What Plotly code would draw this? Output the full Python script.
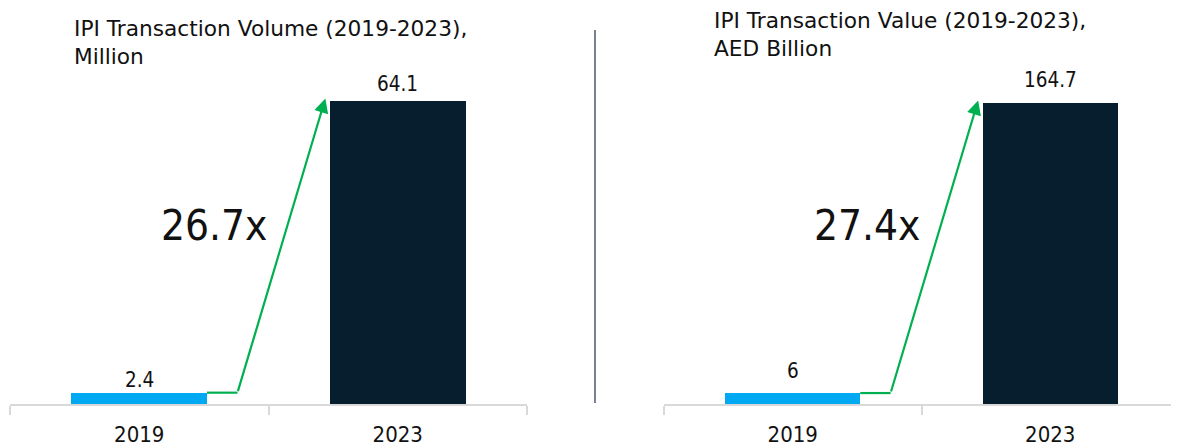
import plotly.graph_objects as go

# data
years = ["2019", "2023"]
volume = [2.4, 64.1]        # million transactions
value_aed = [6, 164.7]      # AED billion
growth_labels = ["26.7x", "27.4x"]
titles = ["IPI Transaction Volume (2019-2023),<br>Million",
          "IPI Transaction Value (2019-2023),<br>AED Billion"]
value_text = [["2.4", "64.1"], ["6", "164.7"]]

BLUE = "#00A9F1"
NAVY = "#071E2E"
GREEN = "#00B050"
TXT = "#111111"
FONT = "'DejaVu Sans Condensed', 'DejaVu Sans', sans-serif"
TITLE_FONT = "'DejaVu Sans', sans-serif"

# page body has an 8px margin, so the figure is sized to fit the window
W, H = 1171, 439
BOTTOM = 43
PLOT_H = H - BOTTOM

fig = go.Figure()

panels = [
    dict(vals=volume, xa="x", ya="y", xdom=[2 / W, 519 / W], ymax=83.9,
         label_shift=[-1, 3]),
    dict(vals=value_aed, xa="x2", ya="y2", xdom=[656 / W, 1.0], ymax=217,
         label_shift=[8, 9]),
]

for i, p in enumerate(panels):
    fig.add_trace(go.Bar(
        x=years, y=p["vals"], width=0.525,
        marker=dict(color=[BLUE, NAVY], line=dict(width=0)),
        xaxis=p["xa"], yaxis=p["ya"], showlegend=False, hoverinfo="skip",
    ))
    # value labels above bars
    for j in range(len(years)):
        fig.add_annotation(
            x=j, y=p["vals"][j], xref=p["xa"], yref=p["ya"],
            text=value_text[i][j], showarrow=False, yanchor="bottom",
            yshift=p["label_shift"][j], font=dict(size=20.5, color=TXT, family=FONT),
        )
    # green growth connector: short flat run off the small bar, then arrow up
    lo, hi = p["vals"]
    fig.add_shape(type="line", xref=p["xa"], yref=p["ya"],
                  x0=0.262, x1=0.38, y0=lo, y1=lo,
                  line=dict(color=GREEN, width=2.2))
    fig.add_annotation(
        x=0.72, y=hi * 1.01, ax=0.38, ay=lo, xref=p["xa"], yref=p["ya"],
        axref=p["xa"], ayref=p["ya"], text="", showarrow=True,
        arrowhead=2, arrowsize=1.3, arrowwidth=2.2, arrowcolor=GREEN,
    )
    # multiplier
    fig.add_annotation(
        x=0.29, y=p["ymax"] * 0.45, xref=p["xa"], yref=p["ya"],
        text=growth_labels[i], showarrow=False,
        font=dict(size=42, color=TXT, family=FONT),
    )
    # panel title
    fig.add_annotation(
        x=[64 / W, 704 / W][i], y=[0.914, 0.932][i], xref="paper", yref="paper",
        text=titles[i], showarrow=False, xanchor="left", yanchor="middle",
        align="left", font=dict(size=21.7, color=TXT, family=TITLE_FONT),
    )

xaxis_common = dict(
    type="category", range=[-0.5, 1.5], showline=True, linecolor="#D9D9D9",
    linewidth=2, ticks="outside", tickson="boundaries", ticklen=9,
    tickcolor="#D9D9D9", tickwidth=2, showgrid=False, zeroline=False,
    tickfont=dict(size=22, color=TXT, family=FONT), ticklabelstandoff=10,
    fixedrange=True,
)
yaxis_common = dict(visible=False, showgrid=False, zeroline=False, fixedrange=True)

fig.update_layout(
    width=W, height=H,
    margin=dict(l=0, r=0, t=0, b=BOTTOM),
    paper_bgcolor="white", plot_bgcolor="white",
    xaxis=dict(domain=panels[0]["xdom"], anchor="y", **xaxis_common),
    xaxis2=dict(domain=panels[1]["xdom"], anchor="y2", **xaxis_common),
    yaxis=dict(range=[0, panels[0]["ymax"]], anchor="x", **yaxis_common),
    yaxis2=dict(range=[0, panels[1]["ymax"]], anchor="x2", **yaxis_common),
    bargap=0,
)

# vertical divider between the two panels
fig.add_shape(type="line", xref="paper", yref="paper",
              x0=587 / W, x1=587 / W, y0=(PLOT_H - 395) / PLOT_H, y1=(PLOT_H - 22) / PLOT_H,
              line=dict(color="#1F2D4A", width=1.2))

fig.write_html("out.html")
